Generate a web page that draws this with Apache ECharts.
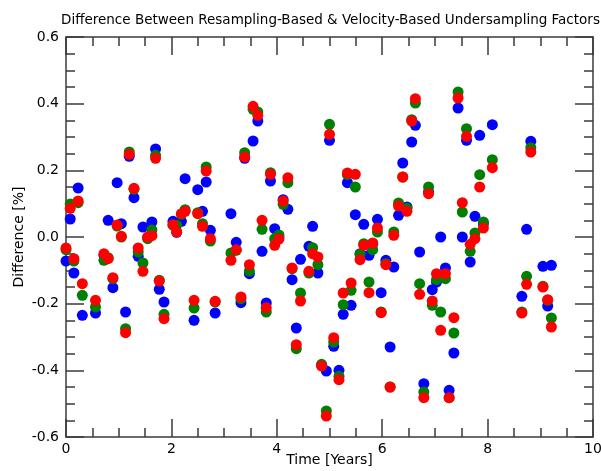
<!DOCTYPE html>
<html>
<head>
<meta charset="utf-8">
<script src="https://cdn.jsdelivr.net/npm/echarts@6/dist/echarts.min.js"></script>
<style>
  html, body { margin: 0; padding: 0; background: #fff; }
  #chart { width: 601px; height: 471px; }
</style>
</head>
<body>
<div id="chart"></div>
<script>
// Sample times in years
const years = [
  0.00, 0.08, 0.15, 0.23, 0.31, 0.56, 0.72, 0.80, 0.89, 0.97,
  1.05, 1.13, 1.20, 1.29, 1.37, 1.46, 1.55, 1.63, 1.70, 1.77,
  1.86, 2.03, 2.10, 2.19, 2.26, 2.43, 2.50, 2.59, 2.66, 2.74,
  2.83, 3.13, 3.23, 3.32, 3.39, 3.48, 3.55, 3.64, 3.72, 3.80,
  3.88, 3.96, 4.04, 4.12, 4.21, 4.29, 4.37, 4.45, 4.61, 4.68,
  4.78, 4.85, 4.94, 5.00, 5.08, 5.18, 5.26, 5.34, 5.41, 5.49,
  5.58, 5.65, 5.75, 5.82, 5.91, 5.98, 6.07, 6.15, 6.22, 6.31,
  6.39, 6.47, 6.56, 6.63, 6.71, 6.79, 6.88, 6.95, 7.03, 7.11,
  7.20, 7.27, 7.36, 7.44, 7.52, 7.60, 7.67, 7.76, 7.85, 7.92,
  8.09, 8.65, 8.74, 8.82, 9.05, 9.14, 9.21
];

// Undersampling-factor differences [%] for each component
const blueDiff = [
  -0.072, 0.054, -0.108, 0.147, -0.235, -0.228, -0.055, 0.050, -0.152, 0.163,
  0.040, -0.225, 0.242, 0.118, -0.058, 0.030, -0.002, 0.045, 0.264, -0.157,
  -0.195, 0.047, 0.014, 0.047, 0.175, -0.250, 0.142, 0.077, 0.165, 0.020,
  -0.228, 0.070, -0.016, -0.197, 0.236, -0.110, 0.288, 0.348, -0.043, -0.198,
  0.168, 0.025, 0.000, 0.112, 0.083, -0.128, -0.273, -0.067, -0.028, 0.032,
  -0.108, -0.385, -0.402, 0.290, -0.328, -0.400, -0.232, 0.163, -0.205, 0.067,
  -0.050, 0.038, -0.055, -0.020, 0.053, -0.167, -0.070, -0.330, -0.090, 0.065,
  0.222, 0.090, 0.285, 0.335, -0.045, -0.440, 0.135, -0.158, -0.135, 0.000,
  -0.093, -0.460, -0.348, 0.387, 0.000, 0.290, -0.075, 0.062, 0.305, 0.040,
  0.337, -0.178, 0.023, 0.287, -0.088, -0.207, -0.085
];

const greenDiff = [
  -0.038, 0.099, -0.072, 0.103, -0.175, -0.210, -0.070, -0.062, -0.125, 0.033,
  0.000, -0.275, 0.255, 0.143, -0.045, -0.078, -0.005, 0.021, 0.245, -0.130,
  -0.232, 0.036, 0.035, 0.068, 0.082, -0.213, 0.073, 0.040, 0.210, -0.012,
  -0.195, -0.048, -0.040, -0.185, 0.253, -0.102, 0.383, 0.375, 0.023, -0.225,
  0.193, -0.005, 0.006, 0.098, 0.163, -0.095, -0.335, -0.168, -0.108, -0.032,
  -0.083, -0.382, -0.522, 0.338, -0.315, -0.418, -0.203, 0.187, -0.160, 0.150,
  -0.052, -0.020, -0.135, -0.038, 0.015, -0.225, -0.080, -0.450, 0.015, 0.102,
  0.180, 0.086, 0.352, 0.402, -0.140, -0.465, 0.150, -0.205, -0.128, -0.225,
  -0.125, -0.482, -0.288, 0.435, 0.075, 0.325, -0.043, 0.012, 0.187, 0.045,
  0.232, -0.225, -0.118, 0.268, -0.148, -0.190, -0.243
];

const redDiff = [
  -0.033, 0.086, -0.065, 0.108, -0.140, -0.190, -0.050, -0.065, -0.122, 0.036,
  0.002, -0.287, 0.248, 0.146, -0.033, -0.103, 0.000, 0.004, 0.236, -0.132,
  -0.245, 0.037, 0.015, 0.070, 0.077, -0.190, 0.070, 0.032, 0.198, -0.005,
  -0.193, -0.070, -0.038, -0.180, 0.240, -0.083, 0.392, 0.365, 0.050, -0.212,
  0.188, -0.025, -0.006, 0.108, 0.178, -0.093, -0.323, -0.192, -0.103, -0.050,
  -0.060, -0.387, -0.537, 0.308, -0.302, -0.428, -0.168, 0.192, -0.138, 0.188,
  -0.068, -0.025, -0.167, -0.018, 0.027, -0.227, -0.083, -0.450, 0.005, 0.093,
  0.180, 0.077, 0.348, 0.415, -0.172, -0.482, 0.130, -0.192, -0.110, -0.280,
  -0.110, -0.482, -0.242, 0.417, 0.103, 0.302, -0.022, -0.005, 0.150, 0.027,
  0.208, -0.228, -0.142, 0.255, -0.150, -0.188, -0.270
];

const xTicks = { min: 0, max: 10, interval: 2 };
const yTicks = { min: -0.6, max: 0.6, interval: 0.2 };

const FONT = 'DejaVu Sans';
const AXIS_COLOR = '#3a3a3a';

function pairs(values) {
  return years.map((t, i) => [t, values[i]]);
}

function frameAxis(base, extra) {
  return Object.assign({
    type: 'value',
    axisLine: { show: true, onZero: false, lineStyle: { color: AXIS_COLOR, width: 1.5 } },
    axisTick: { show: true, inside: true, length: 18, lineStyle: { color: AXIS_COLOR, width: 1.5 } },
    minorTick: { show: true, splitNumber: 4, length: 9, lineStyle: { color: AXIS_COLOR, width: 1.5 } },
    splitLine: { show: false },
    minorSplitLine: { show: false }
  }, base, extra);
}

const chart = echarts.init(document.getElementById('chart'), null, { renderer: 'canvas' });

const dot = (name, color, values) => ({
  name: name,
  type: 'scatter',
  xAxisIndex: 0,
  yAxisIndex: 0,
  symbol: 'circle',
  symbolSize: 11,
  itemStyle: { color: color, opacity: 1 },
  emphasis: { disabled: true },
  data: pairs(values)
});

chart.setOption({
  animation: false,
  backgroundColor: '#ffffff',
  textStyle: { fontFamily: FONT },
  title: {
    text: 'Difference Between Resampling-Based & Velocity-Based Undersampling Factors',
    left: 56,
    top: 8,
    textStyle: { fontFamily: FONT, fontSize: 13.5, fontWeight: 'normal', color: '#000' }
  },
  grid: {
    left: 66, right: 8, top: 37, bottom: 34,
    containLabel: false,
    outerBoundsMode: 'none'
  },
  xAxis: [
    frameAxis(xTicks, {
      position: 'bottom',
      name: 'Time [Years]',
      nameLocation: 'middle',
      nameGap: 16,
      nameMoveOverlap: false,
      nameTextStyle: { fontFamily: FONT, fontSize: 14, color: '#000' },
      axisLabel: { show: true, margin: 5, fontFamily: FONT, fontSize: 14, color: '#000' }
    }),
    frameAxis(xTicks, { position: 'top', axisLabel: { show: false } })
  ],
  yAxis: [
    frameAxis(yTicks, {
      position: 'left',
      name: 'Difference [%]',
      nameLocation: 'middle',
      nameGap: 40,
      nameMoveOverlap: false,
      nameTextStyle: { fontFamily: FONT, fontSize: 14, color: '#000' },
      axisLabel: {
        show: true, margin: 7, fontFamily: FONT, fontSize: 14, color: '#000',
        formatter: v => v.toFixed(1)
      }
    }),
    frameAxis(yTicks, { position: 'right', axisLabel: { show: false } })
  ],
  series: [
    dot('Component 1', '#0000ff', blueDiff),
    dot('Component 2', '#008000', greenDiff),
    dot('Component 3', '#ff0000', redDiff)
  ]
});
</script>
</body>
</html>
